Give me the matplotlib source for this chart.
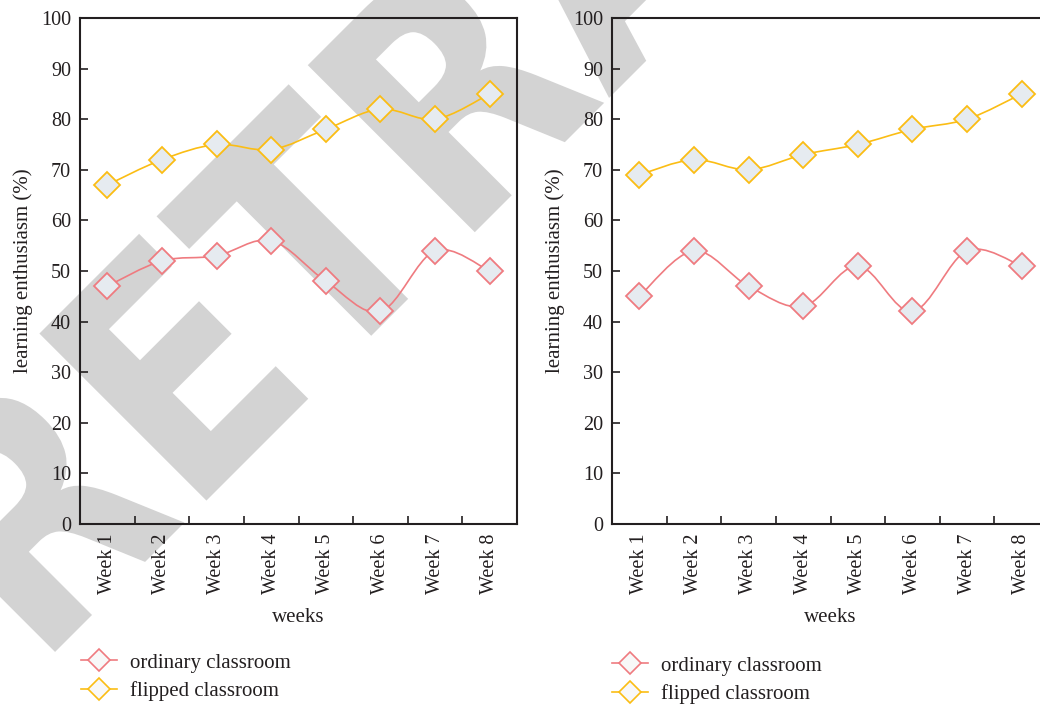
import numpy as np
import matplotlib
matplotlib.use("Agg")
import matplotlib.pyplot as plt
from matplotlib.path import Path
from matplotlib.patches import PathPatch
from matplotlib.textpath import TextPath
from matplotlib.font_manager import FontProperties
from matplotlib.transforms import Affine2D
from matplotlib.lines import Line2D

weeks = ["Week 1", "Week 2", "Week 3", "Week 4", "Week 5", "Week 6", "Week 7", "Week 8"]
left_ordinary = [47, 52, 53, 56, 48, 42, 54, 50]
left_flipped = [67, 72, 75, 74, 78, 82, 80, 85]
right_ordinary = [45, 54, 47, 43, 51, 42, 54, 51]
right_flipped = [69, 72, 70, 73, 75, 78, 80, 85]
series_names = ["ordinary classroom", "flipped classroom"]

red = "#ef7b80"
yellow = "#fbbd14"
fill = "#e6ebf0"
ink = "#231f20"

plt.rcParams["font.family"] = ["Liberation Serif", "DejaVu Serif"]
plt.rcParams["text.color"] = ink
plt.rcParams["axes.labelcolor"] = ink
plt.rcParams["xtick.color"] = ink
plt.rcParams["ytick.color"] = ink


def smooth_path(xs, ys):
    # catmull-rom curve through the points, as cubic bezier segments
    xs = np.asarray(xs, float)
    ys = np.asarray(ys, float)
    px = np.concatenate([[xs[0]], xs, [xs[-1]]])
    py = np.concatenate([[ys[0]], ys, [ys[-1]]])
    verts = [(xs[0], ys[0])]
    codes = [Path.MOVETO]
    for i in range(1, len(px) - 2):
        c1 = (px[i] + (px[i + 1] - px[i - 1]) / 6, py[i] + (py[i + 1] - py[i - 1]) / 6)
        c2 = (px[i + 1] - (px[i + 2] - px[i]) / 6, py[i + 1] - (py[i + 2] - py[i]) / 6)
        verts += [c1, c2, (px[i + 1], py[i + 1])]
        codes += [Path.CURVE4] * 3
    return Path(verts, codes)


fig = plt.figure(figsize=(10.4, 7.05), dpi=100)

# watermark
tp = TextPath((0, 0), "RETRACTED", size=1, prop=FontProperties(family="DejaVu Sans", weight="bold"))
wm = PathPatch(tp, facecolor="#d3d3d3", edgecolor="none", zorder=-1,
               transform=Affine2D().scale(278, 324).rotate_deg(45).translate(37, 35))
fig.add_artist(wm)

x = np.arange(1, len(weeks) + 1)
panels = [
    (80, left_ordinary, left_flipped, (81 / 1040, 1 - 653 / 705)),
    (612, right_ordinary, right_flipped, (612 / 1040, 1 - 656 / 705)),
]

for left_px, ordinary, flipped, leg_pos in panels:
    ax = fig.add_axes([left_px / 1040, (705 - 524) / 705, 437 / 1040, (524 - 18) / 705])
    ax.set_facecolor("none")
    for vals, col in [(ordinary, red), (flipped, yellow)]:
        ax.add_patch(PathPatch(smooth_path(x, vals), facecolor="none", edgecolor=col, lw=1.2, zorder=2))
        ax.plot(x, vals, linestyle="none", marker="D", ms=13, mfc=fill, mec=col, mew=1.3, zorder=3)
    ax.set_xlim(0.5, 8.5)
    ax.set_ylim(0, 100)
    ax.set_yticks(range(0, 101, 10))
    ax.set_xticks(np.arange(0.5, 9, 1))
    ax.set_xticklabels([])
    ax.set_xticks(x, minor=True)
    ax.set_xticklabels(weeks, minor=True, rotation=90)
    ax.tick_params(axis="x", which="major", direction="in", length=6, width=1.2)
    ax.tick_params(axis="x", which="minor", length=0, pad=7, labelsize=14.5)
    ax.tick_params(axis="y", direction="in", length=6, width=1.2, pad=6.5, labelsize=14.5)
    for s in ax.spines.values():
        s.set_linewidth(1.5)
        s.set_color(ink)
    ax.set_ylabel("learning enthusiasm (%)", fontsize=15, labelpad=6)
    ax.set_xlabel("weeks", fontsize=15, labelpad=10)

    handles = [
        Line2D([], [], color=red, lw=1.2, marker="D", ms=11, mfc="#f8f8f8", mec=red, mew=1.2),
        Line2D([], [], color=yellow, lw=1.2, marker="D", ms=11, mfc="#f8f8f8", mec=yellow, mew=1.2),
    ]
    ax.legend(handles, series_names, loc="upper left", bbox_to_anchor=leg_pos,
              bbox_transform=fig.transFigure, frameon=False, fontsize=15,
              borderpad=0, borderaxespad=0, handlelength=1.73, handletextpad=0.6,
              labelspacing=0.42)

fig.savefig("out.png", dpi=100)
